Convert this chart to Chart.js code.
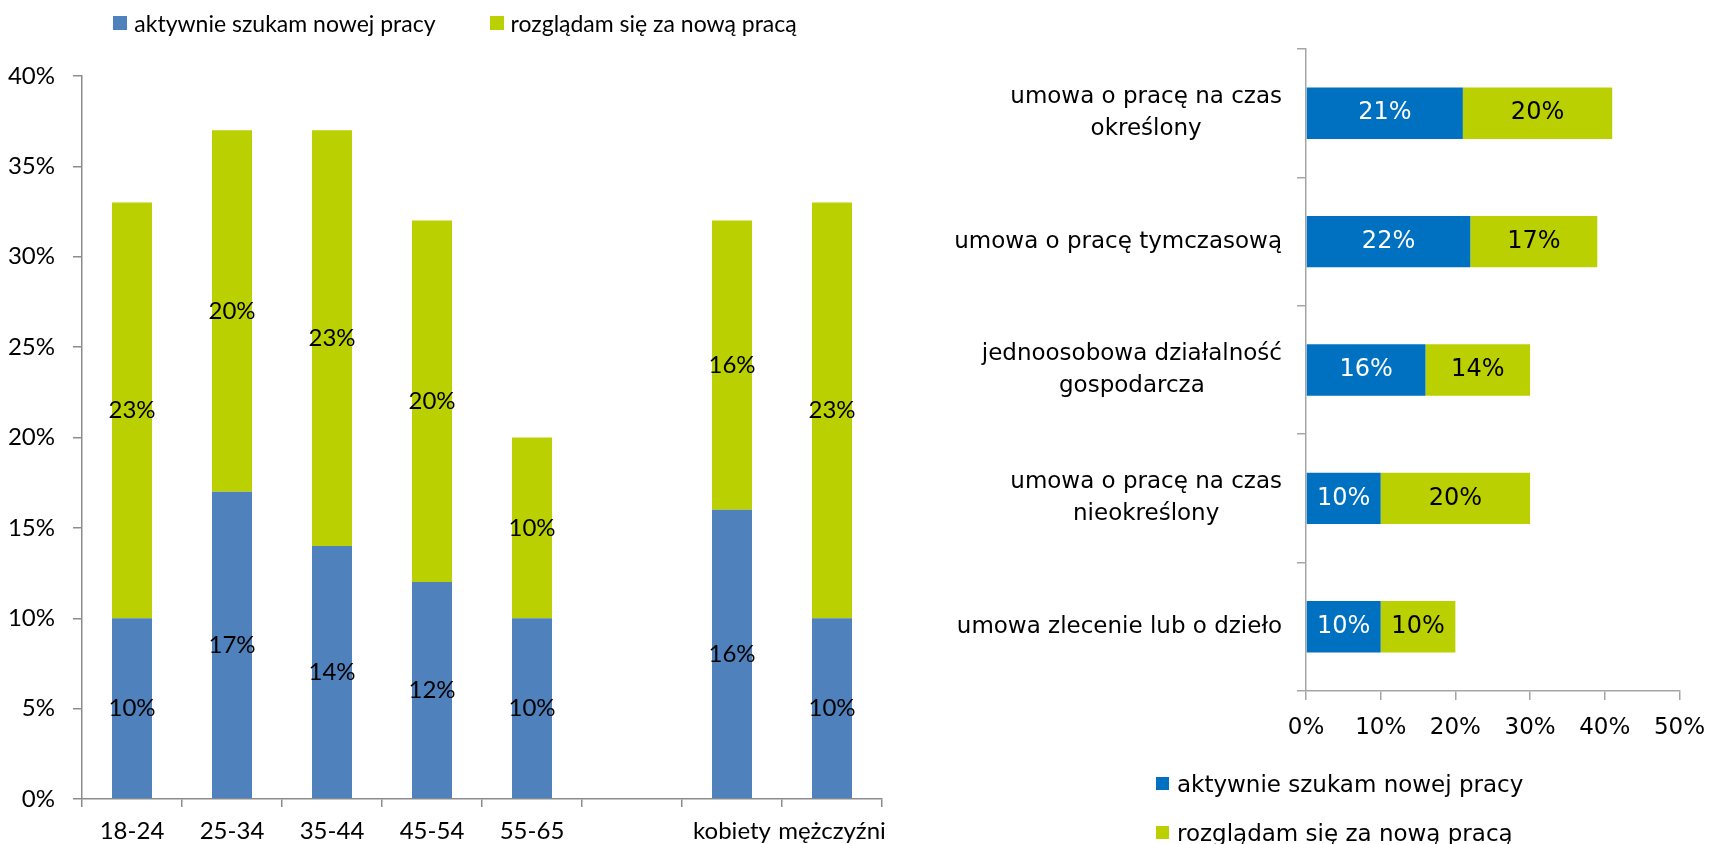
<!DOCTYPE html>
<html lang="pl">
<head>
<meta charset="utf-8">
<title>Szukanie nowej pracy</title>
<script src="https://cdn.jsdelivr.net/npm/chart.js@4.4.1/dist/chart.umd.min.js"></script>
<style>
  html, body { margin: 0; padding: 0; background: #fff; }
  body { width: 1719px; height: 844px; position: relative; overflow: hidden; }
  .wrap { position: absolute; }
  #leftWrap { left: 0; top: 0; width: 900px; height: 844px; }
  #rightWrap { left: 900px; top: 0; width: 819px; height: 760px; }
  .legend { position: absolute; display: flex; color: #000; white-space: nowrap; }
  .legend .item { display: flex; align-items: center; }
  .legend .swatch { display: inline-block; }
  #leftLegend { left: 0; top: 9px; width: 910px; justify-content: center; gap: 54px;
    font: 23px Lato, sans-serif; line-height: 28px; }
  #leftLegend .swatch { width: 14px; height: 14px; margin-right: 7px; }
  #rightLegend { left: 1156px; top: 759px; flex-direction: column;
    font: 23px "DejaVu Sans", sans-serif; }
  #rightLegend .item { height: 49px; }
  #rightLegend .swatch { width: 13px; height: 13px; margin-right: 8px; }
</style>
</head>
<body>
<div class="wrap" id="leftWrap"><canvas id="ageChart"></canvas></div>
<div class="legend" id="leftLegend"></div>
<div class="wrap" id="rightWrap"><canvas id="contractChart"></canvas></div>
<div class="legend" id="rightLegend"></div>

<script>
// series names (same for both charts)
const seriesNames = ["aktywnie szukam nowej pracy", "rozglądam się za nową pracą"];

// left chart: age groups + gender (blank slot between them)
const ageGroups = ["18-24", "25-34", "35-44", "45-54", "55-65", "", "kobiety", "mężczyźni"];
const activeByGroup = [10, 17, 14, 12, 10, null, 16, 10];
const lookingByGroup = [23, 20, 23, 20, 10, null, 16, 23];

// right chart: contract type
const contractTypes = [
  ["umowa o pracę na czas", "określony"],
  ["umowa o pracę tymczasową"],
  ["jednoosobowa działalność", "gospodarcza"],
  ["umowa o pracę na czas", "nieokreślony"],
  ["umowa zlecenie lub o dzieło"]
];
const activeByContract = [21, 22, 16, 10, 10];
const lookingByContract = [20, 17, 14, 20, 10];

const pct = v => v + "%";

// value labels in the middle of each stacked segment
const barLabels = {
  id: "barLabels",
  afterDatasetsDraw(chart, args, opts) {
    const ctx = chart.ctx;
    const horizontal = chart.options.indexAxis === "y";
    ctx.save();
    ctx.font = opts.font;
    ctx.textAlign = "center";
    ctx.textBaseline = "middle";
    chart.data.datasets.forEach((ds, di) => {
      chart.getDatasetMeta(di).data.forEach((bar, i) => {
        const v = ds.data[i];
        if (v == null) return;
        const p = bar.getProps(["x", "y", "base"], true);
        const x = horizontal ? (p.x + p.base) / 2 : p.x;
        const y = horizontal ? p.y : (p.y + p.base) / 2;
        ctx.fillStyle = opts.colors[di];
        ctx.fillText(pct(v), x, y);
      });
    });
    ctx.restore();
  }
};

// category labels: block right aligned to the axis, lines centred inside the block
const wrappedLabels = {
  id: "wrappedLabels",
  afterDraw(chart, args, opts) {
    const scale = chart.scales.y;
    const ctx = chart.ctx;
    ctx.save();
    ctx.font = opts.font;
    ctx.fillStyle = opts.color;
    ctx.textAlign = "center";
    ctx.textBaseline = "middle";
    const right = scale.right - opts.gap;
    chart.data.labels.forEach((lines, i) => {
      const y = scale.getPixelForTick(i);
      const w = Math.max(...lines.map(l => ctx.measureText(l).width));
      lines.forEach((l, j) => {
        ctx.fillText(l, right - w / 2, y + (j - (lines.length - 1) / 2) * opts.lineHeight);
      });
    });
    ctx.restore();
  }
};

function buildLegend(chart, el) {
  chart.data.datasets.forEach(ds => {
    const item = document.createElement("div");
    item.className = "item";
    const sw = document.createElement("span");
    sw.className = "swatch";
    sw.style.background = ds.backgroundColor;
    const tx = document.createElement("span");
    tx.textContent = ds.label;
    item.append(sw, tx);
    el.append(item);
  });
}

// Left chart (vertical stacked bars)
const leftFont = { family: "Lato, sans-serif", size: 24 };
const leftAxis = "#8c8c8c";

const ageChart = new Chart(document.getElementById("ageChart"), {
  type: "bar",
  data: {
    labels: ageGroups,
    datasets: [
      { label: seriesNames[0], data: activeByGroup, backgroundColor: "#4F81BD",
        categoryPercentage: 1, barPercentage: 0.4 },
      { label: seriesNames[1], data: lookingByGroup, backgroundColor: "#BBD000",
        categoryPercentage: 1, barPercentage: 0.4 }
    ]
  },
  options: {
    responsive: true,
    maintainAspectRatio: false,
    animation: false,
    layout: { padding: { top: 76, right: 18, left: 0, bottom: 0 } },
    plugins: {
      legend: { display: false },
      tooltip: { enabled: false },
      barLabels: { font: "24px Lato, sans-serif", colors: ["#000", "#000"] }
    },
    scales: {
      x: {
        stacked: true,
        grid: { drawOnChartArea: false, drawTicks: true, tickLength: 8, color: leftAxis, lineWidth: 1.5 },
        border: { color: leftAxis, width: 1.5 },
        ticks: { color: "#000", font: leftFont, padding: 10, maxRotation: 0, autoSkip: false },
        afterFit: s => { s.height = 45; }
      },
      y: {
        stacked: true,
        min: 0,
        max: 40,
        grid: { drawOnChartArea: false, drawTicks: true, tickLength: 9, color: leftAxis, lineWidth: 1.5 },
        border: { color: leftAxis, width: 1.5 },
        ticks: { stepSize: 5, color: "#000", font: leftFont, padding: 18, callback: pct },
        afterFit: s => { s.width = 82; }
      }
    }
  },
  plugins: [barLabels]
});
buildLegend(ageChart, document.getElementById("leftLegend"));

// Right chart (horizontal stacked bars)
const rightFont = { family: "'DejaVu Sans', sans-serif", size: 23 };
const rightAxis = "#a6a6a6";

const contractChart = new Chart(document.getElementById("contractChart"), {
  type: "bar",
  data: {
    labels: contractTypes,
    datasets: [
      { label: seriesNames[0], data: activeByContract, backgroundColor: "#0070C0",
        categoryPercentage: 1, barPercentage: 0.4 },
      { label: seriesNames[1], data: lookingByContract, backgroundColor: "#BBD000",
        categoryPercentage: 1, barPercentage: 0.4 }
    ]
  },
  options: {
    indexAxis: "y",
    responsive: true,
    maintainAspectRatio: false,
    animation: false,
    layout: { padding: { top: 49, right: 34, left: 0, bottom: 0 } },
    plugins: {
      legend: { display: false },
      tooltip: { enabled: false },
      barLabels: { font: "24px 'DejaVu Sans', sans-serif", colors: ["#fff", "#000"] },
      wrappedLabels: { font: "23px 'DejaVu Sans', sans-serif", color: "#000", gap: 24, lineHeight: 32 }
    },
    scales: {
      x: {
        stacked: true,
        min: 0,
        max: 50,
        grid: { drawOnChartArea: false, drawTicks: true, tickLength: 9, color: rightAxis, lineWidth: 1.5 },
        border: { color: rightAxis, width: 1.5 },
        ticks: { stepSize: 10, color: "#000", font: rightFont, padding: 14, callback: pct },
        afterFit: s => { s.height = 69; }
      },
      y: {
        stacked: true,
        grid: { drawOnChartArea: false, drawTicks: true, tickLength: 9, color: rightAxis, lineWidth: 1.5 },
        border: { color: rightAxis, width: 1.5 },
        ticks: { display: false },
        afterFit: s => { s.width = 406; }
      }
    }
  },
  plugins: [barLabels, wrappedLabels]
});
buildLegend(contractChart, document.getElementById("rightLegend"));
</script>
</body>
</html>
